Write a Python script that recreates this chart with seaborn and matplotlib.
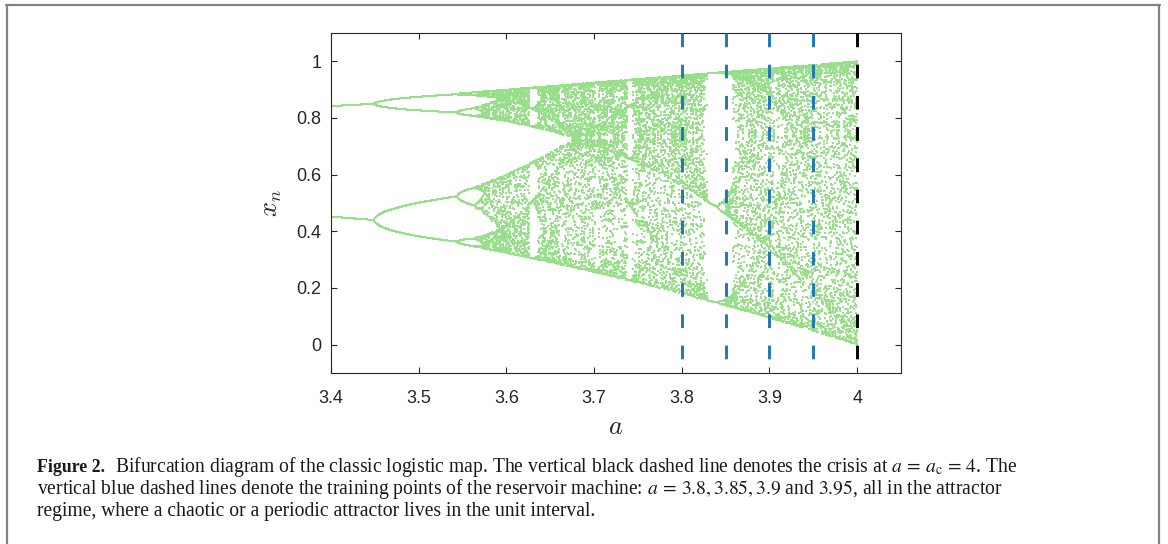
import numpy as np
import pandas as pd
import seaborn as sns
import matplotlib
matplotlib.use("Agg")
import matplotlib.pyplot as plt
from matplotlib.lines import Line2D

# Logistic map x_{n+1} = a * x_n * (1 - x_n), swept over the control parameter a
a_start, a_stop, a_count = 3.4, 4.0, 1200
n_transient = 600
n_kept = 20
x_initial = 0.3

# Training points of the reservoir machine and the crisis point
training_points = [3.8, 3.85, 3.9, 3.95]
crisis_point = 4.0

x_ticks = [3.4, 3.5, 3.6, 3.7, 3.8, 3.9, 4.0]
x_tick_labels = ["3.4", "3.5", "3.6", "3.7", "3.8", "3.9", "4"]
y_ticks = [0.0, 0.2, 0.4, 0.6, 0.8, 1.0]
y_tick_labels = ["0", "0.2", "0.4", "0.6", "0.8", "1"]

caption_head = "Figure 2."
caption_lines = [
    r"Bifurcation diagram of the classic logistic map. The vertical black dashed line denotes the crisis at $a\,=\,a_{\mathrm{c}}\,=\,4$. The",
    r"vertical blue dashed lines denote the training points of the reservoir machine: $a\,=\,3.8, 3.85, 3.9$ and $3.95$, all in the attractor",
    r"regime, where a chaotic or a periodic attractor lives in the unit interval.",
]

# ---- iterate the map -------------------------------------------------------
a_grid = np.linspace(a_start, a_stop, a_count)
x = np.full_like(a_grid, x_initial)
for _ in range(n_transient):
    x = a_grid * x * (1.0 - x)
a_rec, x_rec = [], []
for _ in range(n_kept):
    x = a_grid * x * (1.0 - x)
    a_rec.append(a_grid.copy())
    x_rec.append(x.copy())
orbit = pd.DataFrame({"a": np.concatenate(a_rec), "x": np.concatenate(x_rec)})

# ---- figure ----------------------------------------------------------------
sns.set_theme(style="white")
plt.rcParams["font.family"] = ["Liberation Sans", "DejaVu Sans"]
plt.rcParams["mathtext.fontset"] = "cm"

W, H = 1168, 544
fig = plt.figure(figsize=(W / 100, H / 100), dpi=100)
ax = fig.add_axes([331 / W, 1 - 373 / H, 570 / W, 340 / H])

sns.scatterplot(data=orbit, x="a", y="x", ax=ax, s=3.4, marker="s",
                color="#98df8a", linewidth=0, alpha=1.0, legend=False,
                rasterized=True)

dash = (4.7, 6.0)
for a_t in training_points:
    ax.plot([a_t, a_t], [1.1, -0.1], color="#1f77b4", lw=2.1,
            linestyle=(0, dash), zorder=3)
ax.plot([crisis_point, crisis_point], [1.1, -0.1], color="black", lw=2.1,
        linestyle=(0, dash), zorder=3)

ax.set_xlim(3.4, 4.05)
ax.set_ylim(-0.1, 1.1)
ax.set_xticks(x_ticks)
ax.set_xticklabels(x_tick_labels)
ax.set_yticks(y_ticks)
ax.set_yticklabels(y_tick_labels)

axis_col = "#262626"
for sp in ax.spines.values():
    sp.set_visible(True)
    sp.set_color(axis_col)
    sp.set_linewidth(0.8)
ax.tick_params(direction="in", length=4.5, width=0.8, color=axis_col,
               labelcolor=axis_col, labelsize=13, top=True, right=True,
               bottom=True, left=True, labeltop=False, labelright=False)
ax.tick_params(axis="x", pad=12)
ax.tick_params(axis="y", pad=7)

ax.set_xlabel(r"$a$", fontsize=19, color=axis_col, va="center")
ax.set_ylabel(r"$x_n$", fontsize=19, color=axis_col, va="center")
ax.xaxis.set_label_coords(0.5, -0.16)
ax.yaxis.set_label_coords(-0.104, 0.5)

# ---- caption ----------------------------------------------------------------
cap_font = dict(family=["Liberation Serif", "DejaVu Serif"], color="#1a1a1a",
                va="baseline", math_fontfamily="stix")
baselines = [472, 494, 516]
fig.text(37 / W, 1 - baselines[0] / H, caption_head, fontweight="bold",
         fontsize=12.9, **cap_font)
fig.text(115 / W, 1 - baselines[0] / H, caption_lines[0], fontsize=14.1, **cap_font)
fig.text(37 / W, 1 - baselines[1] / H, caption_lines[1], fontsize=14.1, **cap_font)
fig.text(37 / W, 1 - baselines[2] / H, caption_lines[2], fontsize=14.1, **cap_font)

# ---- surrounding frame -------------------------------------------------------
frame_col = "#828282"
fig.add_artist(Line2D([7 / W, 7 / W], [0, 1 - 5 / H], transform=fig.transFigure,
                      color=frame_col, lw=1.6))
fig.add_artist(Line2D([1159 / W, 1159 / W], [0, 1 - 5 / H], transform=fig.transFigure,
                      color=frame_col, lw=1.6))
fig.add_artist(Line2D([6.4 / W, 1159.6 / W], [1 - 5 / H, 1 - 5 / H],
                      transform=fig.transFigure, color=frame_col, lw=1.6))

fig.savefig("out.png", dpi=100)
